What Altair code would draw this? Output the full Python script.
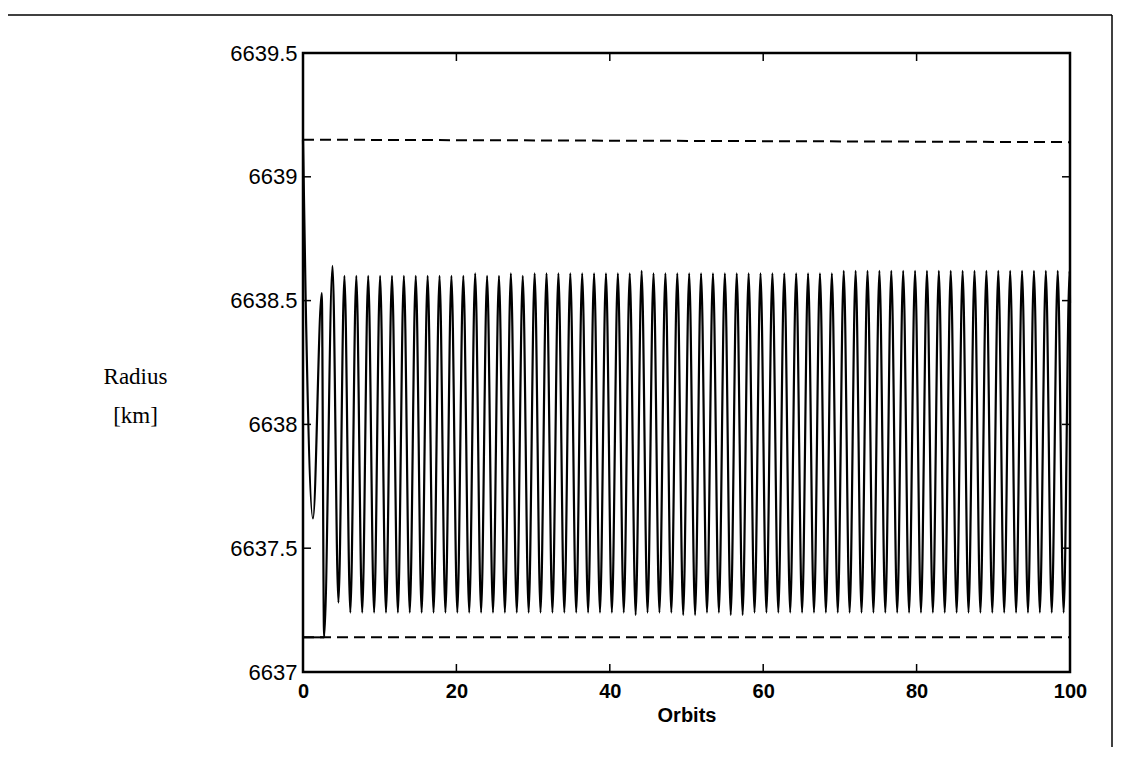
import altair as alt
import pandas as pd

# ---- values ----
# initial transient of the radius trace (orbit, km)
lead_orbit = [0.0, 0.35, 1.30, 2.45, 2.75]
lead_radius = [6639.15, 6638.50, 6637.62, 6638.53, 6637.14]

# oscillation maxima
peak_orbit = [3.85, 5.40, 6.95, 8.50, 10.05, 11.60, 13.15, 14.70, 16.25, 17.80,
              19.35, 20.90, 22.45, 24.00, 25.55, 27.10, 28.65, 30.20, 31.75, 33.30,
              34.85, 36.40, 37.95, 39.50, 41.05, 42.60, 44.15, 45.70, 47.25, 48.80,
              50.35, 51.90, 53.45, 55.00, 56.55, 58.10, 59.65, 61.20, 62.75, 64.30,
              65.85, 67.40, 68.95, 70.50, 72.05, 73.60, 75.15, 76.70, 78.25, 79.80,
              81.35, 82.90, 84.45, 86.00, 87.55, 89.10, 90.65, 92.20, 93.75, 95.30,
              96.85, 98.40, 99.95]
peak_radius = [6638.64, 6638.60, 6638.60, 6638.60, 6638.60, 6638.60, 6638.60, 6638.60, 6638.60, 6638.60,
               6638.60, 6638.60, 6638.61, 6638.60, 6638.60, 6638.61, 6638.60, 6638.61, 6638.61, 6638.61,
               6638.61, 6638.61, 6638.61, 6638.61, 6638.61, 6638.61, 6638.62, 6638.61, 6638.61, 6638.61,
               6638.61, 6638.61, 6638.61, 6638.61, 6638.61, 6638.61, 6638.61, 6638.61, 6638.61, 6638.61,
               6638.61, 6638.61, 6638.61, 6638.62, 6638.62, 6638.62, 6638.62, 6638.62, 6638.62, 6638.62,
               6638.62, 6638.62, 6638.62, 6638.62, 6638.62, 6638.62, 6638.62, 6638.62, 6638.62, 6638.62,
               6638.62, 6638.62, 6638.62]

# oscillation minima
trough_orbit = [4.62, 6.17, 7.72, 9.27, 10.82, 12.37, 13.92, 15.47, 17.02, 18.57,
                20.12, 21.67, 23.22, 24.77, 26.32, 27.87, 29.42, 30.97, 32.52, 34.07,
                35.62, 37.17, 38.72, 40.27, 41.82, 43.37, 44.92, 46.47, 48.02, 49.57,
                51.12, 52.67, 54.22, 55.77, 57.32, 58.87, 60.42, 61.97, 63.52, 65.07,
                66.62, 68.17, 69.72, 71.27, 72.82, 74.37, 75.92, 77.47, 79.02, 80.57,
                82.12, 83.67, 85.22, 86.77, 88.32, 89.87, 91.42, 92.97, 94.52, 96.07,
                97.62, 99.17]
trough_radius = [6637.28, 6637.24, 6637.24, 6637.24, 6637.24, 6637.24, 6637.24, 6637.24, 6637.24, 6637.24,
                 6637.24, 6637.24, 6637.24, 6637.24, 6637.24, 6637.24, 6637.24, 6637.24, 6637.24, 6637.24,
                 6637.24, 6637.24, 6637.24, 6637.24, 6637.24, 6637.23, 6637.24, 6637.24, 6637.24, 6637.23,
                 6637.23, 6637.24, 6637.24, 6637.23, 6637.23, 6637.24, 6637.24, 6637.24, 6637.24, 6637.24,
                 6637.24, 6637.24, 6637.24, 6637.24, 6637.24, 6637.24, 6637.24, 6637.24, 6637.24, 6637.24,
                 6637.24, 6637.24, 6637.24, 6637.24, 6637.24, 6637.24, 6637.24, 6637.24, 6637.24, 6637.24,
                 6637.24, 6637.24]

tail_orbit = [100.0]
tail_radius = [6638.49]

# dashed dead-band limits
bound_orbit = [0.0, 100.0]
upper_radius = [6639.15, 6639.14]
lower_radius = [6637.14, 6637.14]
# solid start of the lower limit
start_orbit = [0.0, 2.75]
start_radius = [6637.14, 6637.14]

x_ticks = [0, 20, 40, 60, 80, 100]
y_ticks = [6637, 6637.5, 6638, 6638.5, 6639, 6639.5]

# ---- tables ----
trace = pd.DataFrame({
    "orbit": lead_orbit + peak_orbit + trough_orbit + tail_orbit,
    "radius": lead_radius + peak_radius + trough_radius + tail_radius,
}).sort_values("orbit").reset_index(drop=True)
trace["order"] = range(len(trace))

bounds = pd.DataFrame({
    "orbit": bound_orbit + bound_orbit,
    "radius": upper_radius + lower_radius,
    "which": ["upper", "upper", "lower", "lower"],
})
start = pd.DataFrame({"orbit": start_orbit, "radius": start_radius})
xt = pd.DataFrame({"orbit": x_ticks})
yt = pd.DataFrame({"radius": y_ticks})

W, H = 767, 619
XS = alt.Scale(domain=[0, 100], nice=False, zero=False)
YS = alt.Scale(domain=[6637, 6639.5], nice=False, zero=False)

x_axis = alt.Axis(
    values=x_ticks, title="Orbits", grid=False, domain=False, ticks=False, tickSize=0,
    labelFont="Liberation Sans", labelFontSize=20, labelFontWeight="bold",
    labelColor="black", labelPadding=9, labelFlush=False, labelOverlap=False,
    titleFont="Liberation Sans", titleFontSize=20, titleFontWeight="bold",
    titleColor="black", titlePadding=4,
)
y_axis = alt.Axis(
    values=y_ticks, title=["Radius", "[km]"], grid=False, domain=False, ticks=False, tickSize=0,
    labelExpr="datum.value + ''",
    labelFont="Liberation Sans", labelFontSize=22, labelColor="black",
    labelPadding=6, labelFlush=False, labelOverlap=False,
    titleFont="Liberation Serif", titleFontSize=23, titleFontWeight="normal",
    titleColor="black", titleAngle=0, titleAlign="center", titleBaseline="alphabetic",
    titleX=-168, titleY=330, titleLineHeight=39,
)

X = alt.X("orbit:Q", scale=XS, axis=x_axis)
Y = alt.Y("radius:Q", scale=YS, axis=y_axis)

line = alt.Chart(trace).mark_line(color="black", strokeWidth=2.2, interpolate="monotone").encode(
    x=X, y=Y, order="order:Q",
)

dashed = alt.Chart(bounds).mark_line(color="black", strokeWidth=2, strokeDash=[11, 6]).encode(
    x=X, y=Y, detail="which:N",
)

start_seg = alt.Chart(start).mark_line(color="black", strokeWidth=2).encode(x=X, y=Y)

tick_style = dict(color="black", strokeWidth=1.5)
xt_bottom = alt.Chart(xt).mark_rule(**tick_style).encode(
    x=X, y=alt.value(H), y2=alt.value(H - 8))
xt_top = alt.Chart(xt).mark_rule(**tick_style).encode(
    x=X, y=alt.value(0), y2=alt.value(8))
yt_left = alt.Chart(yt).mark_rule(**tick_style).encode(
    y=Y, x=alt.value(0), x2=alt.value(8))
yt_right = alt.Chart(yt).mark_rule(**tick_style).encode(
    y=Y, x=alt.value(W - 8), x2=alt.value(W))

# scanned page border (top and right edge)
dummy = pd.DataFrame({"a": [0]})
page_top = alt.Chart(dummy).mark_rule(color="black", strokeWidth=1.5).encode(
    x=alt.value(-295), x2=alt.value(809), y=alt.value(-38))
page_right = alt.Chart(dummy).mark_rule(color="black", strokeWidth=1.5).encode(
    x=alt.value(809), y=alt.value(-38), y2=alt.value(694))

chart = alt.layer(
    dashed, start_seg, line, xt_bottom, xt_top, yt_left, yt_right, page_top, page_right
).properties(
    width=W, height=H,
    autosize=alt.AutoSizeParams(type="none"),
    padding={"left": 295, "top": 45, "right": 45, "bottom": 75},
    background="white",
).configure_view(
    stroke="black", strokeWidth=2.5
)

chart.save("out.html", embed_options={"renderer": "svg", "actions": False})
